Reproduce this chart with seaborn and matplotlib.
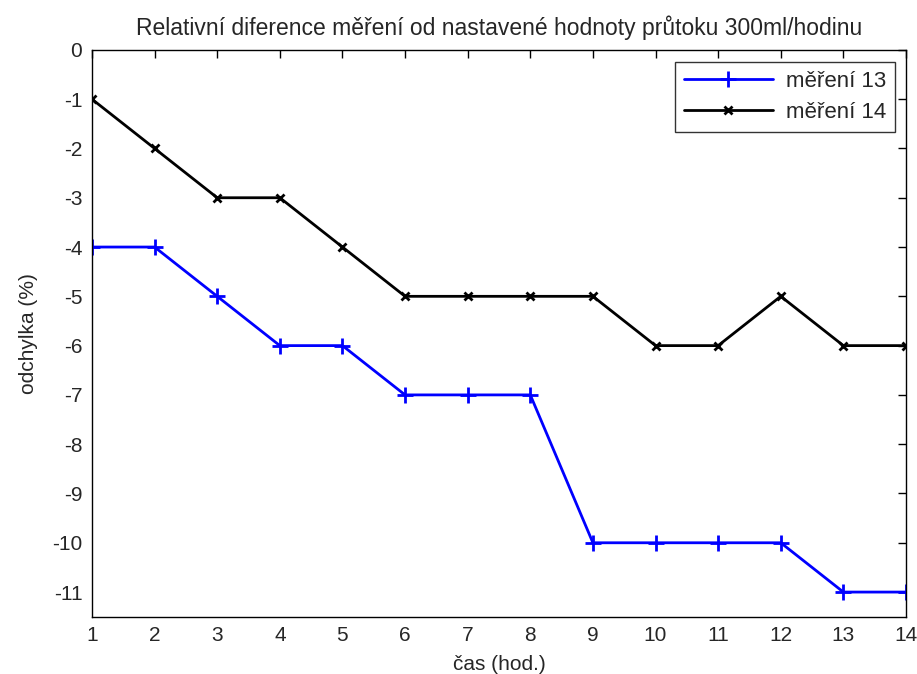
import matplotlib
matplotlib.use("Agg")
import matplotlib.pyplot as plt
import seaborn as sns
import pandas as pd

hours = list(range(1, 15))
mereni_13 = [-4, -4, -5, -6, -6, -7, -7, -7, -10, -10, -10, -10, -11, -11]
mereni_14 = [-1, -2, -3, -3, -4, -5, -5, -5, -5, -6, -6, -5, -6, -6]
y_ticks = [0, -1, -2, -3, -4, -5, -6, -7, -8, -9, -10, -11]

sns.set_style("white")
plt.rcParams['font.family'] = ['Liberation Sans', 'DejaVu Sans']
plt.rcParams['axes.unicode_minus'] = False

df = pd.DataFrame({"hod": hours, "m13": mereni_13, "m14": mereni_14})

fig = plt.figure(figsize=(9.17, 6.74), dpi=100)
ax = fig.add_axes([0.1003, 0.085, 0.8877, 0.841])

sns.lineplot(data=df, x="hod", y="m13", ax=ax, color="#0000ff", linewidth=2,
             marker="+", markersize=11, markeredgewidth=2, markeredgecolor="#0000ff",
             label="měření 13")
sns.lineplot(data=df, x="hod", y="m14", ax=ax, color="black", linewidth=2,
             marker="x", markersize=6, markeredgewidth=2, markeredgecolor="black",
             label="měření 14")

ax.set_xlim(1, 14)
ax.set_ylim(-11.5, 0)
ax.set_xticks(hours)
ax.set_yticks(y_ticks)
ax.tick_params(direction="in", top=True, right=True, length=6, width=1,
               labelsize=15, color="black", pad=7)
for s in ax.spines.values():
    s.set_color("black")
    s.set_linewidth(1)

ax.set_xlabel("čas (hod.)", fontsize=15, labelpad=7)
ax.set_ylabel("odchylka (%)", fontsize=15, labelpad=10)
ax.set_title("Relativní diference měření od nastavené hodnoty průtoku 300ml/hodinu",
             fontsize=16.5, pad=11)

leg = ax.legend(loc="upper right", bbox_to_anchor=(0.9865, 0.979), fontsize=16,
                frameon=True, fancybox=False, edgecolor="black", handlelength=4,
                borderpad=0.4, labelspacing=0.45, borderaxespad=0.0, handletextpad=0.6)
leg.get_frame().set_linewidth(1)

fig.savefig("out.png", dpi=100)
